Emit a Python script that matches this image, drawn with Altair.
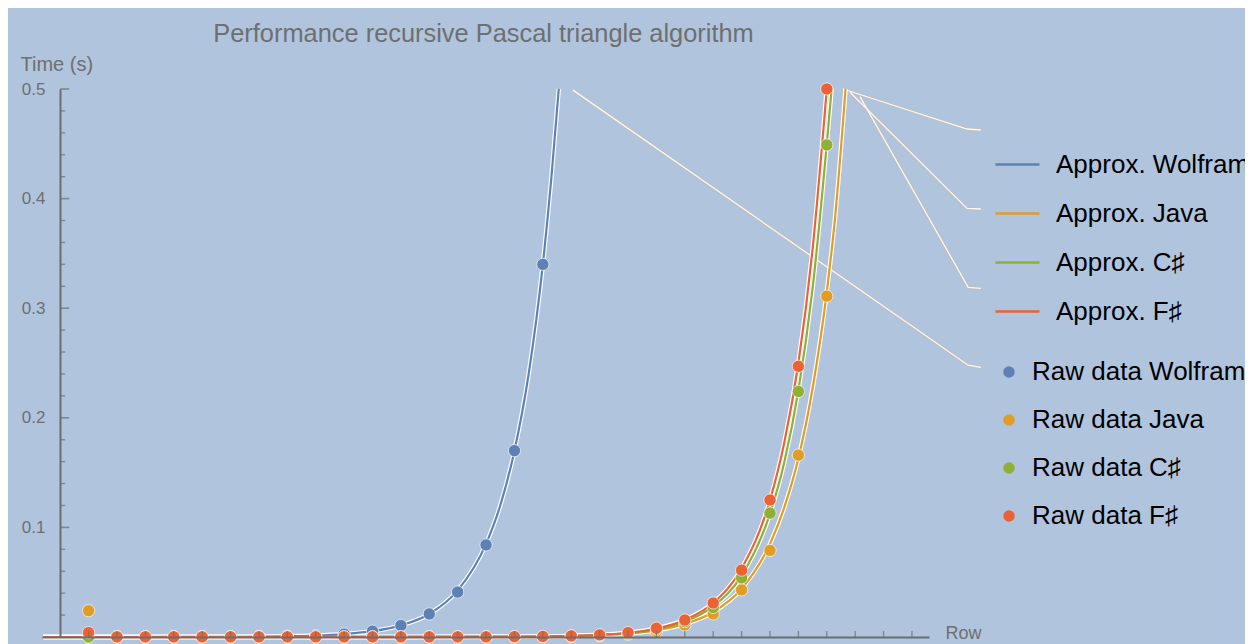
import altair as alt
import pandas as pd

# ---------------- data ----------------
TITLE = "Performance recursive Pascal triangle algorithm"
approx_names = ["Approx. Wolfram", "Approx. Java", "Approx. C♯", "Approx. F♯"]
raw_names = ["Raw data Wolfram", "Raw data Java", "Raw data C♯", "Raw data F♯"]
colors = ["#5E81B5", "#E19C24", "#8FB032", "#EB6235"]

# raw measurements (row -> seconds)
wolfram_rows = list(range(1, 18))
wolfram_raw = [0.0001, 0.0001, 0.0001, 0.0001, 0.0001, 0.0002, 0.0003, 0.0007, 0.0013,
               0.0027, 0.0053, 0.0105, 0.021, 0.041, 0.084, 0.170, 0.340]
lang_rows = list(range(1, 28))
java_raw = [0.024, 0.0001, 0.0001, 0.0001, 0.0001, 0.0001, 0.0001, 0.0001, 0.0001,
            0.0001, 0.0001, 0.0001, 0.0001, 0.0001, 0.0001, 0.0002, 0.0003, 0.0006,
            0.0012, 0.0025, 0.005, 0.011, 0.021, 0.043, 0.079, 0.166, 0.311]
csharp_raw = [0.0001, 0.0001, 0.0001, 0.0001, 0.0001, 0.0001, 0.0001, 0.0001, 0.0001,
              0.0001, 0.0001, 0.0001, 0.0001, 0.0001, 0.0001, 0.0002, 0.0004, 0.0009,
              0.0017, 0.0035, 0.007, 0.014, 0.027, 0.054, 0.113, 0.224, 0.449]
fsharp_raw = [0.004, 0.0001, 0.0001, 0.0001, 0.0001, 0.0001, 0.0001, 0.0001, 0.0001,
              0.0001, 0.0001, 0.0001, 0.0001, 0.0001, 0.0001, 0.0003, 0.0005, 0.001,
              0.002, 0.004, 0.008, 0.0155, 0.031, 0.061, 0.125, 0.247, 0.500]

# fitted approximation curves (row -> seconds)
wolfram_fit_rows = [-0.6, 0, 2, 4, 6, 7, 8, 9, 10, 11, 12, 13, 14, 15, 15.5, 16, 16.5, 17, 17.3, 17.56]
wolfram_fit = [0, 0, 0, 0.0001, 0.0002, 0.0003, 0.0007, 0.0013, 0.0027, 0.0053, 0.0106,
               0.021, 0.0425, 0.085, 0.12, 0.17, 0.24, 0.34, 0.419, 0.5]
java_fit_rows = [-0.6, 0, 4, 8, 12, 16, 17, 18, 19, 20, 21, 22, 23, 24, 25, 25.5, 26, 26.5, 27, 27.3, 27.66]
java_fit = [0, 0, 0, 0, 0.0001, 0.0002, 0.0004, 0.0009, 0.0016, 0.0032, 0.0061, 0.0118,
            0.0228, 0.044, 0.085, 0.118, 0.163, 0.227, 0.315, 0.385, 0.5]
csharp_fit_rows = [-0.6, 0, 4, 8, 12, 16, 17, 18, 19, 20, 21, 22, 23, 24, 25, 25.5, 26, 26.5, 27, 27.17]
csharp_fit = [0, 0, 0, 0, 0.0001, 0.0002, 0.0004, 0.0009, 0.0018, 0.0035, 0.007, 0.014,
              0.028, 0.056, 0.1125, 0.159, 0.225, 0.318, 0.45, 0.5]
fsharp_fit_rows = [-0.6, 0, 4, 8, 12, 16, 17, 18, 19, 20, 21, 22, 23, 24, 25, 25.5, 26, 26.5, 27]
fsharp_fit = [0, 0, 0, 0, 0.0001, 0.0003, 0.0005, 0.001, 0.002, 0.0039, 0.0078, 0.0156,
              0.031, 0.0625, 0.125, 0.177, 0.25, 0.354, 0.5]

# axis tick positions
y_major = [0.1, 0.2, 0.3, 0.4, 0.5]
y_minor = [0.02, 0.04, 0.06, 0.08, 0.12, 0.14, 0.16, 0.18, 0.22, 0.24, 0.26, 0.28,
           0.32, 0.34, 0.36, 0.38, 0.42, 0.44, 0.46, 0.48]
x_ticks = list(range(1, 31))

# callout leader lines (data units)
callout_id = [0, 0, 0, 1, 1, 1, 2, 2, 2, 3, 3, 3]
callout_row = [18.06, 31.98, 32.43, 27.57, 31.94, 32.43, 27.82, 31.94, 32.43, 28.17, 31.98, 32.43]
callout_t = [0.499, 0.248, 0.246, 0.5, 0.4635, 0.4626, 0.497, 0.391, 0.3905, 0.493, 0.319, 0.318]

# ---------------- frames ----------------
raw_df = pd.concat([
    pd.DataFrame({"row": wolfram_rows, "t": wolfram_raw, "raw": raw_names[0]}),
    pd.DataFrame({"row": lang_rows, "t": java_raw, "raw": raw_names[1]}),
    pd.DataFrame({"row": lang_rows, "t": csharp_raw, "raw": raw_names[2]}),
    pd.DataFrame({"row": lang_rows, "t": fsharp_raw, "raw": raw_names[3]}),
], ignore_index=True)
raw_df["k"] = range(len(raw_df))

fit_frames = [
    pd.DataFrame({"row": wolfram_fit_rows, "t": wolfram_fit, "approx": approx_names[0]}),
    pd.DataFrame({"row": java_fit_rows, "t": java_fit, "approx": approx_names[1]}),
    pd.DataFrame({"row": csharp_fit_rows, "t": csharp_fit, "approx": approx_names[2]}),
    pd.DataFrame({"row": fsharp_fit_rows, "t": fsharp_fit, "approx": approx_names[3]}),
]
callout_df = pd.DataFrame({"id": callout_id, "row": callout_row, "t": callout_t})
callout_df["k"] = range(len(callout_df))
ymaj_df = pd.DataFrame({"row": [0] * len(y_major), "t": y_major})
ymin_df = pd.DataFrame({"row": [0] * len(y_minor), "t": y_minor})
xt_df = pd.DataFrame({"row": x_ticks, "t": [0] * len(x_ticks)})

# ---------------- encodings ----------------
FONT = "Liberation Sans"
GRAY = "#6f6f6f"
AXIS_COL = "#6d6d6d"

xscale = alt.Scale(domain=[-0.64, 30.6], nice=False, zero=False)
yscale = alt.Scale(domain=[0, 0.5], nice=False)

x_axis = alt.Axis(title="Row", labels=False, ticks=False, grid=False, domainColor=AXIS_COL,
                  domainWidth=2, titleFont=FONT, titleFontSize=18, titleFontWeight="normal",
                  titleColor=GRAY, titleAngle=0, titleAlign="left", titleBaseline="middle",
                  titleX=903, titleY=-4, zindex=1)
y_axis = alt.Axis(title="Time (s)", values=y_major, format=".1f", ticks=False, tickSize=0,
                  grid=False, domainColor=AXIS_COL, domainWidth=2, offset=-18,
                  labelFont=FONT, labelFontSize=17, labelColor=GRAY, labelPadding=15,
                  titleFont=FONT, titleFontSize=20, titleFontWeight="normal", titleColor=GRAY,
                  titleAngle=0, titleAlign="left", titleBaseline="middle",
                  titleX=-40, titleY=-25, zindex=1)

X = alt.X("row:Q", scale=xscale, axis=x_axis)
Y = alt.Y("t:Q", scale=yscale, axis=y_axis)

stroke_scale = alt.Scale(domain=approx_names, range=colors)
fill_scale = alt.Scale(domain=raw_names, range=colors)

stroke_legend = alt.Legend(title=None, orient="none", direction="vertical", legendX=952,
                           legendY=52, padding=0, symbolType="stroke", symbolSize=1936,
                           symbolStrokeWidth=2.5, labelFont=FONT, labelFontSize=26,
                           labelColor="black", labelOffset=15, rowPadding=12, labelLimit=600)
fill_legend = alt.Legend(title=None, orient="none", direction="vertical", legendX=954,
                         legendY=270, padding=0, symbolType="circle", symbolSize=133,
                         symbolStrokeWidth=0, labelFont=FONT, labelFontSize=26,
                         labelColor="black", labelOffset=10, rowPadding=22, labelLimit=600)

layers = []
# callout leader lines
base_c = alt.Chart(callout_df)
layers.append(base_c.mark_line(stroke="#bfbfbf", strokeWidth=3.4, clip=False).encode(
    x=X, y=Y, detail="id:N", order="k:Q"))
layers.append(base_c.mark_line(stroke="#f8f8f8", strokeWidth=1.3, clip=False).encode(
    x=X, y=Y, detail="id:N", order="k:Q"))

# halos
for f in fit_frames:
    layers.append(alt.Chart(f).mark_line(stroke="white", strokeWidth=4.5,
                                         interpolate="monotone").encode(x=X, y=Y))
# fitted lines
for f in fit_frames:
    layers.append(alt.Chart(f).mark_line(strokeWidth=2.2, interpolate="monotone").encode(
        x=X, y=Y, stroke=alt.Stroke("approx:N", scale=stroke_scale, legend=stroke_legend)))

# raw points
layers.append(alt.Chart(raw_df).mark_circle(size=150, opacity=1, stroke="white",
                                             strokeWidth=0.8, strokeOpacity=0.8).encode(
    x=X, y=Y, fill=alt.Fill("raw:N", scale=fill_scale, legend=fill_legend), order="k:Q"))

# axis ticks (pointing inward like the original)
layers.append(alt.Chart(ymaj_df).mark_tick(orient="horizontal", size=9, thickness=1.6,
                                            xOffset=4.5, color=AXIS_COL).encode(x=X, y=Y))
layers.append(alt.Chart(ymin_df).mark_tick(orient="horizontal", size=5, thickness=1.4,
                                            xOffset=2.5, color=AXIS_COL).encode(x=X, y=Y))
layers.append(alt.Chart(xt_df).mark_tick(orient="vertical", size=6, thickness=1.4,
                                          yOffset=-3, color=AXIS_COL).encode(x=X, y=Y))

chart = alt.layer(*layers).properties(
    width=887,
    height=548,
    autosize=alt.AutoSizeParams(type="none"),
    padding={"left": 34, "top": 81, "right": 316, "bottom": 7},
    background="#B0C4DE",
    title=alt.TitleParams(TITLE, font=FONT, fontSize=25.4, fontWeight="normal", color=GRAY,
                          anchor="middle", dx=-2, offset=7),
).configure_view(stroke=None)

chart.save("out.html", embed_options={"renderer": "svg", "actions": False})
